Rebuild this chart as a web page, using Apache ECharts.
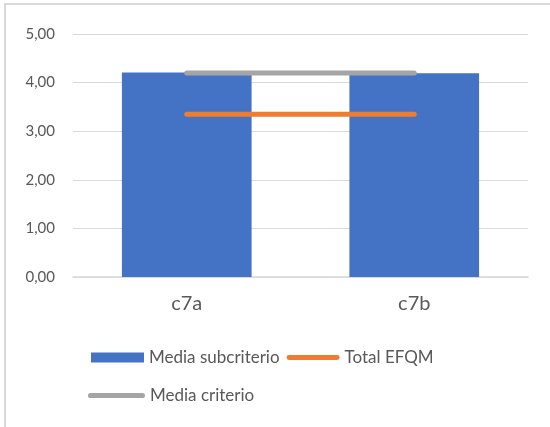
<!DOCTYPE html>
<html>
<head>
<meta charset="utf-8">
<script src="https://cdn.jsdelivr.net/npm/echarts@6/dist/echarts.min.js"></script>
<style>
html,body{margin:0;padding:0;background:#fff;}
#c{width:550px;height:427px;}
</style>
</head>
<body>
<div id="c"></div>
<script>
var categories = ['c7a', 'c7b'];
var mediaSubcriterio = [4.21, 4.19];
var totalEFQM = [3.35, 3.35];
var mediaCriterio = [4.20, 4.20];
var yTicks = [0, 1, 2, 3, 4, 5];

var FONT = 'Lato, "Open Sans", sans-serif';
var CAPSULE = 'path://M2.5,0H52.5A2.5,2.5,0,0,1,52.5,5H2.5A2.5,2.5,0,0,1,2.5,0Z';
var chart = echarts.init(document.getElementById('c'), null, {renderer: 'canvas'});
chart.setOption({
  animation: false,
  backgroundColor: '#ffffff',
  graphic: [{
    type: 'rect', silent: true, z: -1,
    shape: {x: 5, y: 4, width: 600, height: 500},
    style: {fill: 'none', stroke: '#d9d9d9', lineWidth: 2}
  }],
  grid: {left: 73, right: 22, top: 34, bottom: 150, containLabel: false},
  xAxis: {
    type: 'category',
    data: categories,
    axisLine: {show: true, lineStyle: {color: '#d9d9d9', width: 1.5}},
    axisTick: {show: false},
    axisLabel: {color: '#595959', fontSize: 20, fontFamily: FONT, margin: 17}
  },
  yAxis: {
    type: 'value',
    min: yTicks[0], max: yTicks[yTicks.length - 1], interval: 1,
    axisLine: {show: false},
    axisTick: {show: false},
    splitLine: {lineStyle: {color: '#d9d9d9', width: 1}},
    axisLabel: {
      color: '#595959', fontSize: 15, fontFamily: FONT, margin: 18,
      formatter: function (v) { return v.toFixed(2).replace('.', ','); }
    }
  },
  legend: [{
    data: [
      {name: 'Media subcriterio', icon: 'rect'},
      {name: 'Total EFQM', icon: CAPSULE}
    ],
    left: 86, top: 344, orient: 'horizontal',
    itemWidth: 53, itemHeight: 10, itemGap: 7,
    textStyle: {color: '#595959', fontSize: 17, fontFamily: FONT}
  }, {
    data: [{name: 'Media criterio', icon: CAPSULE}],
    left: 83, top: 382, orient: 'horizontal',
    itemWidth: 57, itemHeight: 10, itemGap: 7,
    textStyle: {color: '#595959', fontSize: 17, fontFamily: FONT}
  }],
  series: [{
    name: 'Media subcriterio',
    type: 'bar',
    data: mediaSubcriterio,
    barCategoryGap: '43%',
    itemStyle: {color: '#4472c4'}
  }, {
    name: 'Total EFQM',
    type: 'line',
    data: totalEFQM,
    symbol: 'none',
    lineStyle: {color: '#ed7d31', width: 5, cap: 'round'},
    itemStyle: {color: '#ed7d31'}
  }, {
    name: 'Media criterio',
    type: 'line',
    data: mediaCriterio,
    symbol: 'none',
    lineStyle: {color: '#a5a5a5', width: 5, cap: 'round'},
    itemStyle: {color: '#a5a5a5'}
  }]
});
</script>
</body>
</html>
